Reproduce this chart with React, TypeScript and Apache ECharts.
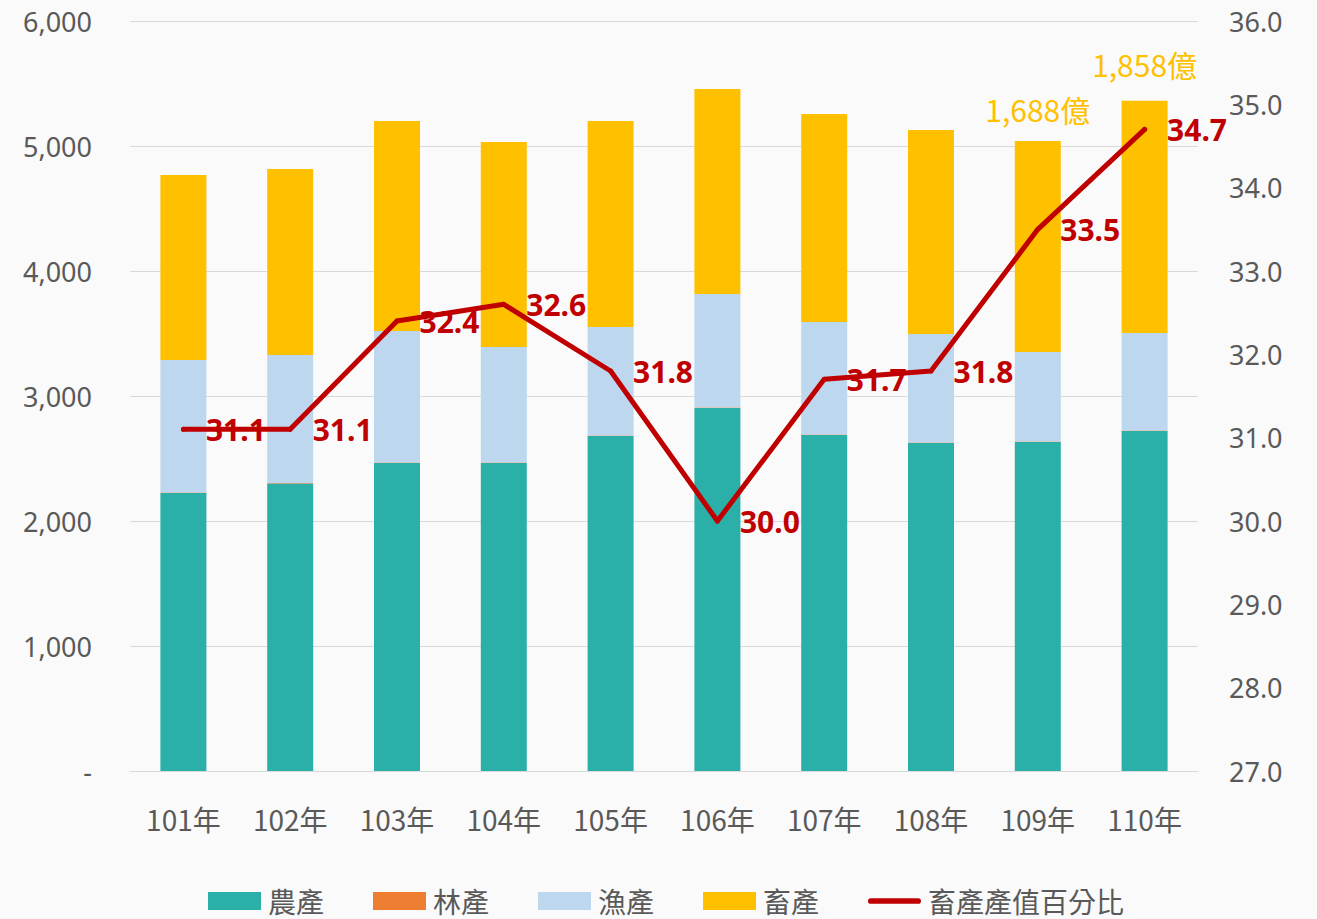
import React, { useEffect, useRef } from "react";
import * as echarts from "echarts";

const categories = ["101年", "102年", "103年", "104年", "105年", "106年", "107年", "108年", "109年", "110年"];
const agriculture = [2224, 2300, 2464, 2464, 2680, 2904, 2688, 2624, 2632, 2720];
const forestry = [5, 5, 5, 5, 5, 5, 5, 5, 5, 5];
const fishery = [1059, 1023, 1051, 923, 867, 907, 899, 867, 715, 779];
const livestock = [1480, 1488, 1680, 1640, 1648, 1640, 1664, 1632, 1688, 1858];
const livestockShare = [31.1, 31.1, 32.4, 32.6, 31.8, 30.0, 31.7, 31.8, 33.5, 34.7];
const labeledLivestock = [8, 9];

const FONT = "'Noto Sans CJK TC', 'Noto Sans', sans-serif";
const GREY = "#595959";

export default function App() {
  const ref = useRef<HTMLDivElement>(null);
  useEffect(() => {
    if (!ref.current) return;
    const chart = echarts.init(ref.current, null, { renderer: "svg" });
    const livestockData = livestock.map((v, i) =>
      labeledLivestock.includes(i)
        ? {
            value: v,
            label: {
              show: true,
              position: "top",
              distance: i === 9 ? 22 : 17,
              formatter: (p: any) => p.value.toLocaleString("en-US") + "億",
              color: "#FFC000",
              fontSize: 30,
              fontFamily: FONT,
            },
          }
        : v
    );
    chart.setOption({
      animation: false,
      backgroundColor: "#fafafa",
      textStyle: { fontFamily: FONT },
      grid: { left: 130, right: 119, top: 21, bottom: 148, containLabel: false },
      legend: {
        left: 208,
        top: 887,
        padding: 0,
        itemWidth: 53,
        itemHeight: 18,
        itemGap: 49,
        textStyle: { color: GREY, fontSize: 28, lineHeight: 24, padding: [0, 0, 0, 2], fontFamily: FONT },
        data: [
          { name: "農產", icon: "rect" },
          { name: "林產", icon: "rect" },
          { name: "漁產", icon: "rect" },
          { name: "畜產", icon: "rect" },
          {
            name: "畜產產值百分比",
            icon: "path://M3,0L53,0A3,3,0,0,1,53,6L3,6A3,3,0,0,1,3,0Z",
          },
        ],
      },
      xAxis: {
        type: "category",
        data: categories,
        axisLine: { lineStyle: { color: "#D9D9D9", width: 1 } },
        axisTick: { show: false },
        axisLabel: { color: GREY, fontSize: 28, margin: 34, fontFamily: FONT },
      },
      yAxis: [
        {
          type: "value",
          min: 0,
          max: 6000,
          interval: 1000,
          axisLine: { show: false },
          axisTick: { show: false },
          splitLine: { lineStyle: { color: "#D9D9D9", width: 1 } },
          axisLabel: {
            color: GREY,
            fontSize: 27,
            margin: 38,
            fontFamily: "'Noto Sans', sans-serif",
            formatter: (v: number) => (v === 0 ? "-" : v.toLocaleString("en-US")),
          },
        },
        {
          type: "value",
          min: 27,
          max: 36,
          interval: 1,
          axisLine: { show: false },
          axisTick: { show: false },
          splitLine: { show: false },
          axisLabel: {
            color: GREY,
            fontSize: 27,
            margin: 31,
            fontFamily: "'Noto Sans', sans-serif",
            formatter: (v: number) => v.toFixed(1),
          },
        },
      ],
      series: [
        { name: "農產", type: "bar", stack: "total", barWidth: 46, data: agriculture, itemStyle: { color: "#2AB0A9" } },
        { name: "林產", type: "bar", stack: "total", barWidth: 46, data: forestry, itemStyle: { color: "#ED7D31" } },
        { name: "漁產", type: "bar", stack: "total", barWidth: 46, data: fishery, itemStyle: { color: "#BDD7EE" } },
        { name: "畜產", type: "bar", stack: "total", barWidth: 46, data: livestockData, itemStyle: { color: "#FFC000" } },
        {
          name: "畜產產值百分比",
          type: "line",
          yAxisIndex: 1,
          data: livestockShare,
          symbol: "circle",
          symbolSize: 5,
          itemStyle: { color: "#C00000" },
          lineStyle: { color: "#C00000", width: 5, cap: "round", join: "round" },
          label: {
            show: true,
            position: "right",
            distance: 20,
            color: "#C00000",
            fontSize: 30,
            fontWeight: "bold",
            fontFamily: "'Noto Sans', sans-serif",
            formatter: (p: any) => Number(p.value).toFixed(1),
          },
        },
      ],
    });
    return () => chart.dispose();
  }, []);
  return (
    <div
      ref={ref}
      style={{ position: "fixed", left: 0, top: 0, width: 1317, height: 919, background: "#fafafa" }}
    />
  );
}
